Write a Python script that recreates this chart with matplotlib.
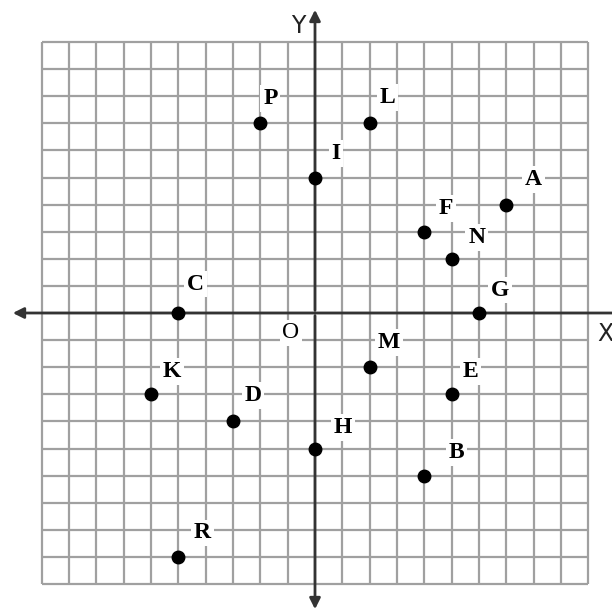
import matplotlib
matplotlib.use("Agg")
import matplotlib.pyplot as plt

names = ["A", "F", "N", "G", "L", "P", "I", "C", "K", "D", "M", "E", "H", "B", "R"]
xs = [7, 4, 5, 6, 2, -2, 0, -5, -6, -3, 2, 5, 0, 4, -5]
ys = [4, 3, 2, 0, 7, 7, 5, 0, -3, -4, -2, -3, -5, -6, -9]
grid_min, grid_max = -10, 10

# label offsets in pixels (dx right, dy up)
offsets = {"A": (27, 25), "F": (22, 23), "N": (25, 21), "G": (21, 23), "L": (18, 26),
           "P": (10, 25), "I": (21, 24), "C": (17, 29), "K": (21, 23), "D": (20, 26),
           "M": (19, 25), "E": (19, 23), "H": (28, 21), "B": (32, 23), "R": (24, 24)}

W, H = 612, 615
fig = plt.figure(figsize=(W / 100, H / 100), dpi=100)
ax = fig.add_axes([0, 0, 1, 1])
ux, uy = 27.33, 27.1
ox, oy = 315, 313
ax.set_xlim(-ox / ux, (W - ox) / ux)
ax.set_ylim(-(H - oy) / uy, oy / uy)
ax.axis("off")

gc = "#a0a0a0"
for v in range(grid_min, grid_max + 1):
    ax.plot([v, v], [grid_min, grid_max], color=gc, lw=1.6, zorder=1, solid_capstyle="butt")
    ax.plot([grid_min, grid_max], [v, v], color=gc, lw=1.6, zorder=1, solid_capstyle="butt")

ac = "#333333"
ax.annotate("", xy=(-(ox - 10) / ux, 0), xytext=((W - ox) / ux + 0.5, 0),
            arrowprops=dict(arrowstyle="-|>", color=ac, lw=2, mutation_scale=16), zorder=2)
ax.annotate("", xy=(0, (oy - 7) / uy), xytext=(0, 0),
            arrowprops=dict(arrowstyle="-|>", color=ac, lw=2, mutation_scale=16), zorder=2)
ax.annotate("", xy=(0, -(612 - oy) / uy), xytext=(0, 0),
            arrowprops=dict(arrowstyle="-|>", color=ac, lw=2, mutation_scale=16), zorder=2)

ax.plot(xs, ys, "o", color="black", ms=9, zorder=4)

for n, x, y in zip(names, xs, ys):
    dx, dy = offsets[n]
    ax.annotate(n, (x, y), xytext=(dx * 0.72, dy * 0.72), textcoords="offset points",
                ha="center", va="center", fontsize=17, fontweight="bold",
                family="Liberation Serif", zorder=5,
                bbox=dict(boxstyle="square,pad=0.12", fc="white", ec="none"))

ax.text(-24 / ux, -20 / uy, "O", ha="center", va="center", fontsize=17,
        family="Liberation Serif", zorder=5,
        bbox=dict(boxstyle="square,pad=0.1", fc="white", ec="none"))
ax.text((605 - ox) / ux, -(334 - oy) / uy, "X", ha="center", va="center", fontsize=17,
        family="DejaVu Sans", color="#222222", zorder=5)
ax.text((298 - ox) / ux, (oy - 26) / uy, "Y", ha="center", va="center", fontsize=17,
        family="DejaVu Sans", color="#222222", zorder=5)

fig.savefig("out.png", dpi=100)
